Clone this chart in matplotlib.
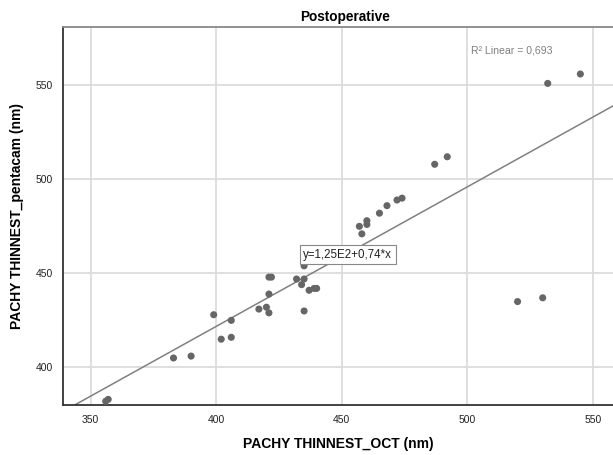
import matplotlib
matplotlib.use("Agg")
import matplotlib.pyplot as plt

plt.rcParams['font.family'] = ['Liberation Sans', 'DejaVu Sans']

oct_nm = [356, 357, 383, 390, 399, 402, 406, 406, 417, 420, 421, 421, 421, 422,
          432, 434, 435, 435, 435, 437, 439, 440, 457, 458, 460, 460, 465, 468,
          472, 474, 487, 492, 520, 530, 532, 545]
pentacam_nm = [382, 383, 405, 406, 428, 415, 416, 425, 431, 432, 439, 429, 448, 448,
               447, 444, 447, 454, 430, 441, 442, 442, 475, 471, 476, 478, 482, 486,
               489, 490, 508, 512, 435, 437, 551, 556]
x_ticks = [350, 400, 450, 500, 550]
y_ticks = [400, 450, 500, 550]
fit_intercept = 125.0
fit_slope = 0.742
r2_text = "R² Linear = 0,693"
eq_text = "y=1,25E2+0,74*x"

fig = plt.figure(figsize=(6.13, 4.55), dpi=100)
ax = fig.add_axes([63/613, 1-405/455, 1-63/613, (405-27)/455])

xlim = (339, 558)
ylim = (380, 581)
ax.set_xlim(*xlim)
ax.set_ylim(*ylim)

ax.set_xticks(x_ticks)
ax.set_yticks(y_ticks)
ax.grid(True, color='#dcdcdc', linewidth=1.3)
ax.set_axisbelow(True)
ax.tick_params(length=0, labelsize=7.5, pad=7, colors='#222222')

for s in ['left', 'bottom']:
    ax.spines[s].set_color('#333333')
    ax.spines[s].set_linewidth(1.3)
ax.spines['top'].set_color('#888888')
ax.spines['top'].set_linewidth(1.3)
ax.spines['right'].set_visible(False)

xs = [xlim[0], xlim[1]]
ys = [fit_intercept + fit_slope * v for v in xs]
ax.plot(xs, ys, color='#808080', linewidth=1.1, zorder=2)

ax.scatter(oct_nm, pentacam_nm, s=26, color='#666666', edgecolors='none', zorder=3)

ax.text(501.4, 568.5, r2_text, fontsize=7.6, color='#808080', va='center', ha='left')
ax.text(434.7, 460.0, eq_text, fontsize=8.3, color='#222222', va='center', ha='left',
        bbox=dict(boxstyle='square,pad=0.3', facecolor='white', edgecolor='#888888', linewidth=0.8),
        zorder=4)

ax.set_xlabel('PACHY THINNEST_OCT (nm)', fontsize=10, fontweight='bold', labelpad=9)
ax.set_ylabel('PACHY THINNEST_pentacam (nm)', fontsize=10, fontweight='bold', labelpad=9)
fig.text(345/613, 1-17/455, 'Postoperative', fontsize=9.8, fontweight='bold', ha='center', va='center')

fig.savefig('out.png', dpi=100)
